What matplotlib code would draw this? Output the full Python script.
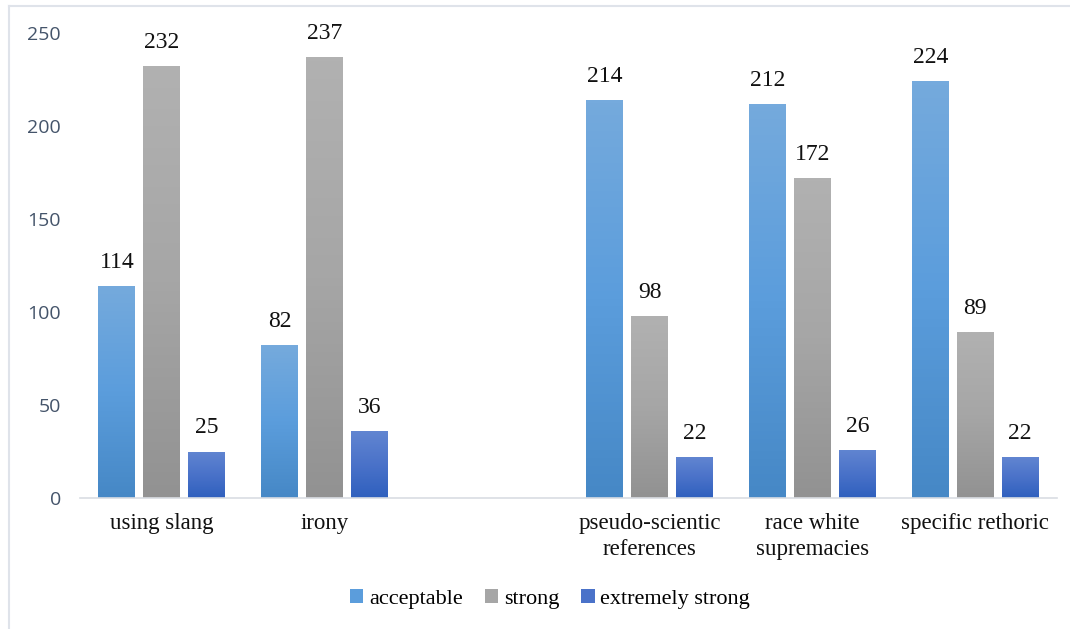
#!/usr/bin/env python
# grouped bar chart with excel-like gradient fills
import numpy as np
import matplotlib.pyplot as plt
from matplotlib.colors import LinearSegmentedColormap
from matplotlib.lines import Line2D

categories = ['using slang', 'irony', '', 'pseudo-scientic\nreferences',
              'race white\nsupremacies', 'specific rethoric']
acceptable = [114, 82, 0, 214, 212, 224]
strong = [232, 237, 0, 98, 172, 89]
extremely_strong = [25, 36, 0, 22, 26, 22]
series_names = ['acceptable', 'strong', 'extremely strong']
yticks = [0, 50, 100, 150, 200, 250]

# gradient colours: (top, middle, bottom)
grads = [('#75aadd', '#5b9ddc', '#4688c6'),
         ('#b1b1b1', '#a6a6a6', '#929292'),
         ('#6185d1', '#4a72c9', '#2f60be')]

fig = plt.figure(figsize=(10.7, 6.29), dpi=100)
ax = fig.add_axes([80.5/1070, 1-498/629, 976/1070, 465/629])

x = np.arange(len(categories))
w = 0.227
step = 0.276
data = [acceptable, strong, extremely_strong]
for i, (vals, name, g) in enumerate(zip(data, series_names, grads)):
    pos = x + (i-1)*step
    mask = [c != '' for c in categories]
    bars = ax.bar(pos[mask], np.array(vals)[mask], width=w, color=g[1], label=name, zorder=2)
    cmap = LinearSegmentedColormap.from_list('g%d' % i, [g[2], g[1], g[0]])
    for b, v in zip(bars, np.array(vals)[mask]):
        bx = b.get_x()
        im = ax.imshow(np.linspace(0, 1, 100).reshape(-1, 1), cmap=cmap, aspect='auto',
                       origin='lower', extent=[bx, bx+b.get_width(), 0, v], zorder=2.5)
        im.set_clip_path(b)
        ax.text(bx+b.get_width()/2, v+7, str(v), ha='center', va='bottom',
                fontsize=17, family='Liberation Serif', color='#111111')

ax.set_xlim(-0.5, len(categories)-0.5)
ax.set_ylim(0, 250)
ax.set_yticks(yticks)
ax.set_yticklabels([str(t) for t in yticks], fontsize=14, family='Open Sans', color='#44546a')
ax.set_xticks(x)
ax.set_xticklabels(categories, fontsize=16.5, family='Liberation Serif', color='#111111',
                   linespacing=1.3, va='top')
ax.tick_params(axis='both', length=0)
ax.tick_params(axis='y', pad=14)
ax.tick_params(axis='x', pad=11)
for s in ['top', 'right', 'left']:
    ax.spines[s].set_visible(False)
ax.spines['bottom'].set_color('#d9dde3')
ax.spines['bottom'].set_linewidth(1.2)

leg = ax.legend(loc='center', bbox_to_anchor=(550/1070, 1-599/629), bbox_transform=fig.transFigure,
                ncol=3, frameon=False, handlelength=0.6, handleheight=0.6, handletextpad=0.25,
                columnspacing=1.0, prop={'family': 'Liberation Serif', 'size': 16})

# outer frame (left and top visible)
fig.add_artist(Line2D([9/1070, 9/1070], [0, 1-6/629], color='#dfe3ea', lw=1.5))
fig.add_artist(Line2D([9/1070, 1], [1-6/629, 1-6/629], color='#dfe3ea', lw=1.5))

fig.savefig('out.png', dpi=100)
